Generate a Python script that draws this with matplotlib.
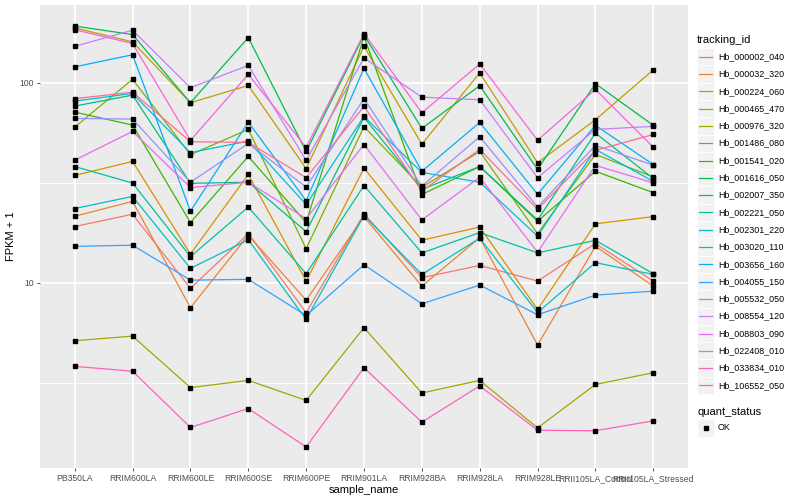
import numpy as np
import matplotlib.pyplot as plt
from matplotlib.lines import Line2D
from matplotlib.patches import Rectangle

plt.rcParams['font.family'] = ['Liberation Sans', 'DejaVu Sans']

samples = ['PB350LA', 'RRIM600LA', 'RRIM600LE', 'RRIM600SE', 'RRIM600PE', 'RRIM901LA',
           'RRIM928BA', 'RRIM928LA', 'RRIM928LE', 'RRII105LA_Control', 'RRII105LA_Stressed']

# FPKM + 1, one list per transcript, in sample order
hb_000002_040 = [19.1, 22.0, 9.37, 17.6, 7.08, 22.1, 10.6, 12.2, 10.2, 15.7, 10.2]
hb_000032_320 = [21.5, 25.5, 7.50, 17.3, 8.18, 21.4, 9.62, 16.8, 4.88, 15.2, 9.62]
hb_000224_060 = [34.4, 40.4, 13.9, 34.8, 10.2, 37.4, 16.3, 19.0, 7.35, 19.7, 21.4]
hb_000465_470 = [188, 160, 79.4, 96.9, 37.2, 152, 49.3, 112, 39.8, 65.3, 116]
hb_000976_320 = [5.13, 5.41, 2.99, 3.25, 2.58, 5.96, 2.81, 3.25, 1.88, 3.10, 3.55]
hb_001486_080 = [60.0, 104, 43.7, 58.4, 14.8, 60.3, 30.0, 45.3, 17.6, 43.8, 33.8]
hb_001541_020 = [71.3, 61.4, 20.0, 42.8, 20.0, 170, 27.6, 38.1, 20.3, 36.1, 28.2]
hb_001616_050 = [192, 174, 79.4, 168, 45.3, 173, 59.1, 96.6, 36.9, 98.9, 61.2]
hb_002007_350 = [76.4, 86.7, 31.4, 31.8, 18.0, 67.1, 29.3, 38.1, 20.6, 56.0, 33.2]
hb_002221_050 = [38.1, 31.5, 13.5, 23.9, 11.1, 30.6, 14.1, 17.8, 14.1, 16.3, 11.1]
hb_002301_220 = [23.5, 27.0, 11.8, 16.4, 6.55, 21.7, 11.0, 16.7, 7.10, 12.6, 11.0]
hb_003020_110 = [80.9, 88.4, 44.7, 51.1, 24.6, 67.8, 35.6, 31.8, 17.1, 46.4, 32.1]
hb_003656_160 = [120, 138, 22.8, 63.5, 25.7, 118, 36.1, 63.3, 27.7, 61.2, 39.0]
hb_004055_150 = [15.2, 15.4, 10.3, 10.4, 6.86, 12.3, 7.85, 9.73, 6.92, 8.67, 9.08]
hb_005532_050 = [66.3, 65.8, 31.8, 49.7, 30.1, 83.2, 30.4, 53.7, 23.9, 48.6, 38.7]
hb_008554_120 = [152, 183, 94.4, 122, 40.9, 133, 84.7, 82.2, 33.5, 58.4, 60.5]
hb_008803_090 = [41.0, 57.1, 29.9, 31.8, 20.9, 49.1, 20.6, 33.7, 14.2, 38.6, 31.6]
hb_022408_010 = [184, 157, 51.5, 110, 47.5, 176, 70.8, 124, 51.6, 92.6, 47.6]
hb_033834_010 = [3.82, 3.61, 1.89, 2.35, 1.51, 3.76, 2.01, 3.05, 1.83, 1.82, 2.04]
hb_106552_050 = [83.2, 89.7, 50.7, 50.3, 33.5, 76.1, 28.7, 46.4, 23.3, 45.9, 55.1]

tracking_ids = ['Hb_000002_040', 'Hb_000032_320', 'Hb_000224_060', 'Hb_000465_470',
                'Hb_000976_320', 'Hb_001486_080', 'Hb_001541_020', 'Hb_001616_050',
                'Hb_002007_350', 'Hb_002221_050', 'Hb_002301_220', 'Hb_003020_110',
                'Hb_003656_160', 'Hb_004055_150', 'Hb_005532_050', 'Hb_008554_120',
                'Hb_008803_090', 'Hb_022408_010', 'Hb_033834_010', 'Hb_106552_050']
series = [hb_000002_040, hb_000032_320, hb_000224_060, hb_000465_470, hb_000976_320,
          hb_001486_080, hb_001541_020, hb_001616_050, hb_002007_350, hb_002221_050,
          hb_002301_220, hb_003020_110, hb_003656_160, hb_004055_150, hb_005532_050,
          hb_008554_120, hb_008803_090, hb_022408_010, hb_033834_010, hb_106552_050]

colors = ['#F8766D', '#EA8331', '#D89000', '#C09B00', '#A3A500', '#7CAE00', '#39B600',
          '#00BB4E', '#00BF7D', '#00C1A3', '#00BFC4', '#00BAE0', '#00B0F6', '#35A2FF',
          '#9590FF', '#C77CFF', '#E76BF3', '#FA62DB', '#FF62BC', '#FF6C91']

W, H = 800, 500
fig = plt.figure(figsize=(8, 5), dpi=100)
ax = fig.add_axes([40 / W, 1 - 468 / H, 648 / W, 463 / H])
ax.set_facecolor('#EBEBEB')

x = np.arange(1, len(samples) + 1)
for vals, c in zip(series, colors):
    ax.plot(x, vals, color=c, lw=0.9, zorder=3)
for vals in series:
    ax.plot(x, vals, ls='none', marker='s', ms=2.5, color='black', zorder=4)

ax.set_yscale('log')
allv = np.log10(np.concatenate([np.array(s) for s in series]))
lo, hi = allv.min(), allv.max()
pad = 0.05 * (hi - lo)
ax.set_ylim(10 ** (lo - pad), 10 ** (hi + pad))
ax.set_xlim(0.4, len(samples) + 0.6)

ax.set_yticks([10, 100])
ax.set_yticklabels(['10', '100'])
ax.set_yticks([10 ** 0.5, 10 ** 1.5], minor=True)
ax.set_yticklabels([], minor=True)
ax.set_xticks(x)
ax.set_xticklabels(samples)

ax.grid(which='major', color='white', lw=1.3, zorder=1)
ax.grid(which='minor', axis='y', color='white', lw=0.65, zorder=1)
ax.set_axisbelow(True)
for s in ax.spines.values():
    s.set_visible(False)
ax.tick_params(which='major', length=2.5, width=0.6, color='#333333',
               labelcolor='#4D4D4D', labelsize=6.2, pad=2)
ax.tick_params(which='minor', length=0)

ax.set_xlabel('sample_name', fontsize=8, labelpad=1)
ax.set_ylabel('FPKM + 1', fontsize=8, labelpad=2)


def fx(px):
    return px / W


def fy(py):
    return 1 - py / H


# legend: tracking_id
fig.text(fx(697), fy(40), 'tracking_id', fontsize=8, va='center', ha='left')
step = 17.3
for i, (tid, c) in enumerate(zip(tracking_ids, colors)):
    yc = 56.7 + step * i
    fig.add_artist(Rectangle((fx(697), fy(yc + step / 2)), 17 / W, step / H,
                             transform=fig.transFigure, facecolor='#F2F2F2',
                             edgecolor='white', lw=0.6))
    fig.add_artist(Line2D([fx(699), fx(712)], [fy(yc), fy(yc)], color=c, lw=0.9,
                          transform=fig.transFigure))
    fig.text(fx(718), fy(yc), tid, fontsize=6.4, va='center', ha='left')

# legend: quant_status
fig.text(fx(697), fy(412), 'quant_status', fontsize=8, va='center', ha='left')
fig.add_artist(Rectangle((fx(697), fy(428 + step / 2)), 17 / W, step / H,
                         transform=fig.transFigure, facecolor='#F2F2F2',
                         edgecolor='white', lw=0.6))
fig.add_artist(Line2D([fx(705.5)], [fy(428)], marker='s', ms=2.5, color='black',
                      transform=fig.transFigure))
fig.text(fx(718), fy(428), 'OK', fontsize=6.4, va='center', ha='left')

fig.savefig('out.png', dpi=100)
